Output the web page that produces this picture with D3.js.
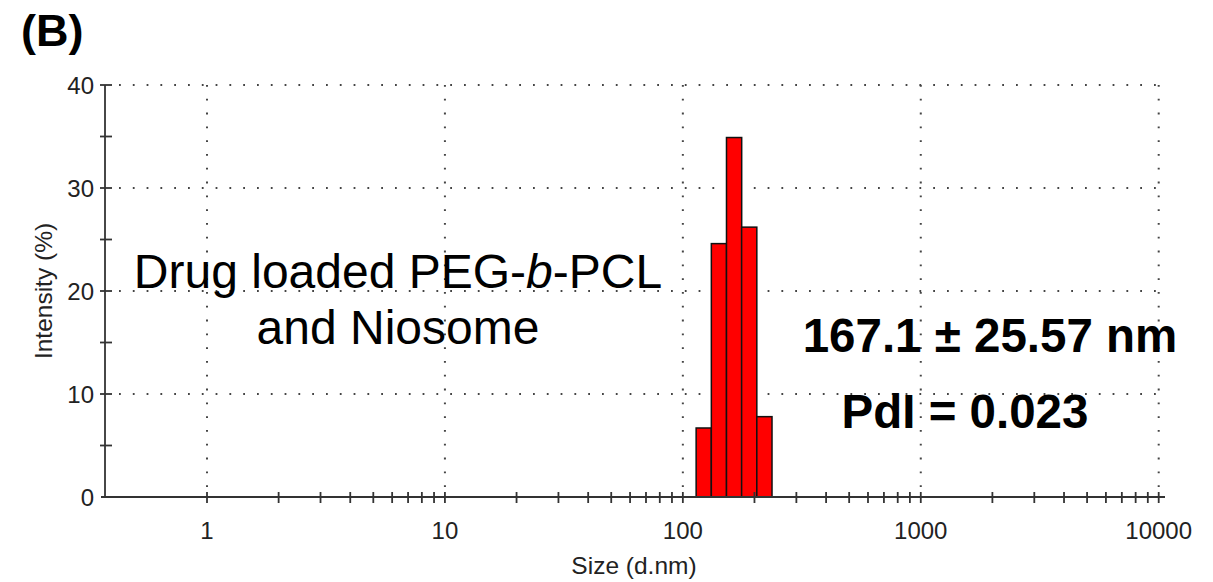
<!DOCTYPE html>
<html>
<head>
<meta charset="utf-8">
<script src="https://cdn.jsdelivr.net/npm/d3@7"></script>
<style>
  html, body { margin: 0; padding: 0; background: #fff; }
  svg { display: block; font-family: "Liberation Sans", Arial, sans-serif; }
</style>
</head>
<body>
<svg id="chart" width="1213" height="582"></svg>
<script>
// ---- data ----
const sizes = [122.4, 141.8, 164.2, 190.1, 220.2];          // bin centres (d.nm)
const intensities = [6.7, 24.6, 34.9, 26.2, 7.8];           // intensity (%)
const xTickValues = [1, 10, 100, 1000, 10000];
const xTickLabels = ["1", "10", "100", "1000", "10000"];
const yTickValues = [0, 10, 20, 30, 40];
const yTickLabels = ["0", "10", "20", "30", "40"];
const yMinorValues = [5, 15, 25, 35];
const panelLabel = "(B)";
const xTitle = "Size (d.nm)";
const yTitle = "Intensity (%)";
const sampleLines = ["Drug loaded PEG-", "b", "-PCL"];
const sampleLine2 = "and Niosome";
const resultLines = ["167.1 ± 25.57 nm", "PdI = 0.023"];

// ---- layout ----
const svg = d3.select("#chart");
const X_LEFT = 105, X_RIGHT = 1165;
const x = d3.scaleLog().domain([1, 10000]).range([207, 1158.7]);
const y = d3.scaleLinear().domain([0, 40]).range([497, 85]);

// minor tick values on x
const xMinor = [];
for (let d = 1; d < 10000; d *= 10) for (let k = 2; k <= 9; k++) xMinor.push(d * k);

const grid = svg.append("g");
const dotStyle = s => s.attr("stroke", "#444").attr("stroke-width", 2)
  .attr("stroke-dasharray", "1.8,12")
  .attr("fill", "none");

// horizontal grid
grid.selectAll("line.h").data(yTickValues.filter(v => v > 0)).join("line")
  .attr("x1", X_LEFT + 14).attr("x2", x(10000))
  .attr("y1", d => y(d)).attr("y2", d => y(d)).call(dotStyle);
// vertical grid
grid.selectAll("line.v").data(xTickValues).join("line")
  .attr("x1", d => x(d)).attr("x2", d => x(d))
  .attr("y1", y(40)).attr("y2", y(0) - 6).call(dotStyle);

// bars
const half = Math.sqrt(sizes[1] / sizes[0]);
svg.append("g").selectAll("rect").data(sizes).join("rect")
  .attr("x", d => x(d / half))
  .attr("width", d => x(d * half) - x(d / half))
  .attr("y", (d, i) => y(intensities[i]))
  .attr("height", (d, i) => y(0) - y(intensities[i]))
  .attr("fill", "#ff0000").attr("stroke", "#111").attr("stroke-width", 1.5);

// axes
const axisColor = "#333";
const ax = svg.append("g").attr("stroke", axisColor).attr("stroke-width", 1.8);
ax.append("line").attr("x1", X_LEFT).attr("x2", X_LEFT).attr("y1", y(40)).attr("y2", y(0));
ax.append("line").attr("x1", X_LEFT - 4).attr("x2", X_RIGHT).attr("y1", y(0)).attr("y2", y(0));
// y ticks
ax.selectAll("line.yt").data(yTickValues.filter(v => v > 0).concat(yMinorValues)).join("line")
  .attr("x1", X_LEFT - 5).attr("x2", X_LEFT + 7)
  .attr("y1", d => y(d)).attr("y2", d => y(d));
// x ticks
ax.selectAll("line.xt").data(xTickValues.concat(xMinor)).join("line")
  .attr("x1", d => x(d)).attr("x2", d => x(d))
  .attr("y1", y(0) - 5).attr("y2", y(0) + 6);

// tick labels
svg.append("g").selectAll("text").data(yTickValues).join("text")
  .attr("x", 94).attr("y", d => y(d)).attr("dy", "0.36em")
  .attr("text-anchor", "end").attr("font-size", 24).attr("fill", "#222")
  .text((d, i) => yTickLabels[i]);
svg.append("g").selectAll("text").data(xTickValues).join("text")
  .attr("x", d => x(d)).attr("y", 539)
  .attr("text-anchor", "middle").attr("font-size", 24).attr("fill", "#222")
  .text((d, i) => xTickLabels[i]);

// axis titles
svg.append("text").attr("x", 634).attr("y", 574)
  .attr("text-anchor", "middle").attr("font-size", 24.5).attr("fill", "#222").text(xTitle);
svg.append("text").attr("transform", `translate(52,${(y(0) + y(40)) / 2}) rotate(-90)`)
  .attr("text-anchor", "middle").attr("font-size", 24.5).attr("fill", "#222").text(yTitle);

// panel label
svg.append("text").attr("x", 21).attr("y", 46).attr("font-size", 45)
  .attr("font-weight", "bold").attr("fill", "#000").text(panelLabel);

// sample annotation
const t1 = svg.append("text").attr("x", 398).attr("y", 288).attr("text-anchor", "middle")
  .attr("font-size", 48).attr("fill", "#000");
t1.append("tspan").text(sampleLines[0]);
t1.append("tspan").attr("font-style", "italic").text(sampleLines[1]);
t1.append("tspan").text(sampleLines[2]);
svg.append("text").attr("x", 398).attr("y", 344).attr("text-anchor", "middle")
  .attr("font-size", 48).attr("fill", "#000").text(sampleLine2);

// results annotation
svg.append("text").attr("x", 990).attr("y", 352).attr("text-anchor", "middle")
  .attr("font-size", 47.5).attr("font-weight", "bold").attr("fill", "#000").text(resultLines[0]);
svg.append("text").attr("x", 965).attr("y", 428).attr("text-anchor", "middle")
  .attr("font-size", 47.5).attr("font-weight", "bold").attr("fill", "#000").text(resultLines[1]);
</script>
</body>
</html>
